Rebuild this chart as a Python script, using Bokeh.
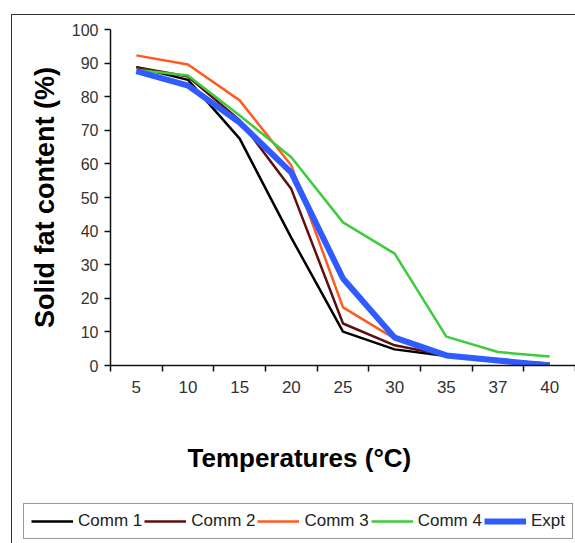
from bokeh.plotting import figure
from bokeh.layouts import column
from bokeh.models import (FactorRange, Range1d, LinearAxis, CategoricalAxis, FixedTicker,
                          Legend, LegendItem, Label, InlineStyleSheet)
from bokeh.embed import file_html
from bokeh.resources import INLINE

temps = ["5", "10", "15", "20", "25", "30", "35", "37", "40"]
comm1 = [88.8, 85.0, 67.5, 38.0, 10.1, 4.8, 2.8, 1.4, 0.3]
comm2 = [88.8, 86.0, 73.0, 52.5, 12.5, 6.0, 3.0, 1.5, 0.6]
comm3 = [92.3, 89.6, 78.9, 59.5, 17.3, 8.0, 3.0, 1.5, 0.6]
comm4 = [88.0, 86.3, 74.4, 62.0, 42.6, 33.3, 8.6, 4.0, 2.7]
expt = [87.6, 83.3, 72.3, 57.4, 25.9, 8.3, 3.0, 1.5, 0.0]
y_ticks = [0, 10, 20, 30, 40, 50, 60, 70, 80, 90, 100]

series = [
    ("Comm 1", comm1, "#000000", 2.5),
    ("Comm 2", comm2, "#5e0f0f", 2.5),
    ("Comm 3", comm3, "#ff5b1f", 2.5),
    ("Comm 4", comm4, "#3ccc3c", 2.5),
    ("Expt", expt, "#2f5bff", 6),
]

FONT = "Liberation Sans"

p = figure(width=575, height=405, output_backend="svg", toolbar_location=None,
           x_range=FactorRange(factors=temps), y_range=Range1d(0, 100),
           x_axis_type=None, y_axis_type=None,
           min_border_left=110, min_border_right=0, min_border_top=29, min_border_bottom=40)
p.outline_line_color = None
p.xgrid.visible = False
p.ygrid.visible = False
p.background_fill_color = "white"
p.border_fill_color = "white"
p.stylesheets = [InlineStyleSheet(css=(
    ":host::after{content:'';position:absolute;left:11px;top:14px;right:0;bottom:0;"
    "border-left:1.5px solid #333;border-top:1.5px solid #333;pointer-events:none;}"
))]

# y axis
yax = LinearAxis(ticker=FixedTicker(ticks=y_ticks))
yax.axis_line_color = "#111111"
yax.axis_line_width = 1.5
yax.major_tick_line_color = "#111111"
yax.major_tick_line_width = 1.5
yax.major_tick_out = 6
yax.major_tick_in = 0
yax.minor_tick_out = 0
yax.minor_tick_in = 0
yax.major_label_text_font = FONT
yax.major_label_text_font_size = "16px"
yax.major_label_text_color = "#333333"
yax.major_label_standoff = 6
yax.axis_label = "Solid fat content (%)"
yax.axis_label_text_font = FONT
yax.axis_label_text_font_style = "bold"
yax.axis_label_text_font_size = "27px"
yax.axis_label_text_color = "#000000"
yax.axis_label_standoff = 9
p.add_layout(yax, "left")

# x tick marks between categories (synthetic category boundaries)
tax = LinearAxis(ticker=FixedTicker(ticks=list(range(len(temps) + 1))))
tax.axis_line_color = "#111111"
tax.axis_line_width = 1.5
tax.major_tick_line_color = "#111111"
tax.major_tick_line_width = 1.5
tax.major_tick_out = 6
tax.major_tick_in = 0
tax.minor_tick_out = 0
tax.minor_tick_in = 0
tax.major_label_text_font_size = "1px"
tax.major_label_text_alpha = 0
tax.major_label_standoff = 0
p.add_layout(tax, "below")

# category labels
xax = CategoricalAxis()
xax.axis_line_color = None
xax.major_tick_line_color = None
xax.major_tick_out = 0
xax.major_tick_in = 0
xax.major_label_text_font = FONT
xax.major_label_text_font_size = "17px"
xax.major_label_text_color = "#333333"
xax.major_label_standoff = 9
p.add_layout(xax, "below")

for name, vals, color, w in series:
    p.line(x=temps, y=vals, line_color=color, line_width=w, line_join="round")

# lower panel: x-axis title and legend
p2 = figure(width=575, height=138, output_backend="svg", toolbar_location=None,
            x_range=Range1d(0, 1), y_range=Range1d(0, 1),
            x_axis_type=None, y_axis_type=None,
            min_border_left=0, min_border_right=0, min_border_top=0, min_border_bottom=0)
p2.outline_line_color = None
p2.background_fill_color = "white"
p2.border_fill_color = "white"
p2.stylesheets = [InlineStyleSheet(css=(
    ":host::after{content:'';position:absolute;left:11px;top:0;right:0;bottom:0;"
    "border-left:1.5px solid #333;pointer-events:none;}"
))]

shift = 0
if "frame_align" in p2.properties():
    p.frame_align = False
    p2.frame_align = False
else:
    p2.min_border_left = 110
    shift = 110

nan = float("nan")
items = []
for name, vals, color, w in series:
    # legend proxy renderer (no visible data)
    r = p2.line(x=[nan], y=[nan], line_color=color, line_width=w)
    items.append(LegendItem(label=name, renderers=[r]))

legend = Legend(items=items, orientation="horizontal", location=(23 - shift, 4),
                glyph_width=42, glyph_height=16, label_standoff=5, spacing=2,
                padding=7, margin=0,
                label_text_font=FONT, label_text_font_size="17px", label_text_color="#222222",
                border_line_color="#333333", border_line_width=1.5,
                background_fill_color="white", background_fill_alpha=1)
p2.add_layout(legend, "center")

xlabel = Label(x=187 - shift, y=86, x_units="screen", y_units="screen", text="Temperatures (°C)",
               text_font=FONT, text_font_style="bold", text_font_size="26px",
               text_baseline="alphabetic", text_color="#000000")
p2.add_layout(xlabel)

layout = column(p, p2, spacing=0)
open("out.html", "w").write(file_html(layout, INLINE))
